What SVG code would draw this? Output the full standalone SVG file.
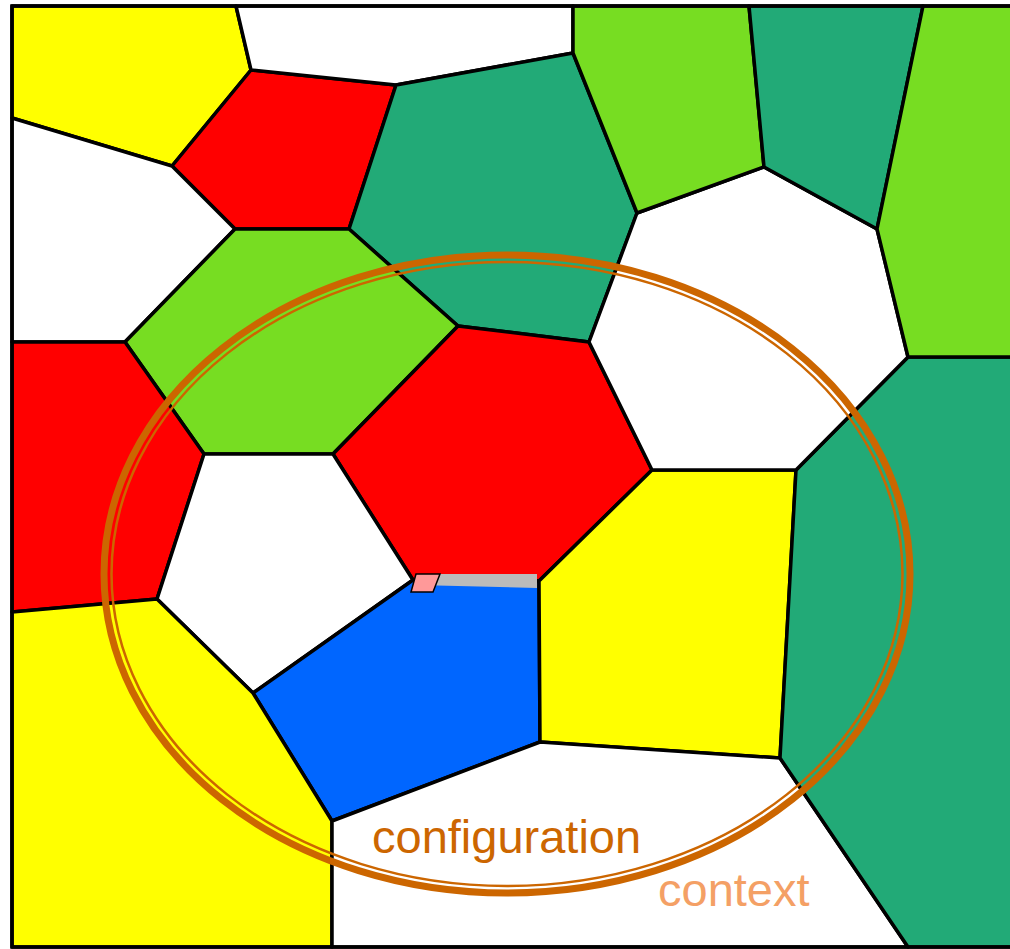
<svg xmlns="http://www.w3.org/2000/svg" width="1010" height="949" viewBox="0 0 1010 949">
<style>
.c{stroke:#000;stroke-width:3.5;stroke-linejoin:round}
.y{fill:#FFFF00}.r{fill:#FF0000}.w{fill:#FFFFFF}.t{fill:#22AA77}.g{fill:#77DD22}.b{fill:#0066FF}
.lbl{font-family:"Liberation Sans",Arial,sans-serif;font-size:47px}
</style>
<rect x="0" y="0" width="1010" height="949" fill="#FFFFFF"/>
<g id="cells">
<g id="c1"><polygon class="c y" points="12,6 236,6 251,70 172,166 12,118"/></g>
<g id="c2"><polygon class="c r" points="251,70 396,85 349,229 235,229 172,166"/></g>
<g id="c3"><polygon class="c w" points="12,118 172,166 235,229 125,342 12,342"/></g>
<g id="c4"><polygon class="c w" points="236,6 573,6 573,53 396,85 251,70"/></g>
<g id="c5"><polygon class="c t" points="396,85 573,53 637,213 589,342 458,326 349,229"/></g>
<g id="c6"><polygon class="c g" points="235,229 349,229 458,326 333,454 204,454 125,342"/></g>
<g id="c7"><polygon class="c r" points="12,342 125,342 204,454 157,599 12,612"/></g>
<g id="c8"><polygon class="c r" points="458,326 589,342 652,470 539,581 413,580 333,454"/></g>
<g id="c9"><polygon class="c w" points="204,454 333,454 413,580 253,693 157,599"/></g>
<g id="c10"><polygon class="c b" points="413,580 539,581 540,742 332,821 253,693"/></g>
<g id="c11"><polygon class="c y" points="12,612 157,599 253,693 332,821 332,947 12,947"/></g>
<g id="c12"><polygon class="c y" points="539,581 652,470 796,470 780,758 540,742"/></g>
<g id="c13"><polygon class="c w" points="332,821 540,742 780,758 908,947 332,947"/></g>
<g id="c14"><polygon class="c t" points="796,470 908,357 1012,357 1012,947 908,947 780,758"/></g>
<g id="c15"><polygon class="c w" points="637,213 764,167 877,229 908,357 796,470 652,470 589,342"/></g>
<g id="c16"><polygon class="c g" points="573,53 573,6 749,6 764,167 637,213"/></g>
<g id="c17"><polygon class="c t" points="749,6 923,6 877,229 764,167"/></g>
<g id="c18"><polygon class="c g" points="923,6 1012,6 1012,357 908,357 877,229"/></g>
</g>
<rect id="frame" x="12" y="6" width="1000" height="941" fill="none" stroke="#000" stroke-width="3.5"/>
<g id="marker">
<polygon points="416,574 537,574 537,588 416,585" fill="#BBBBBB"/>
<polygon points="416,574 440,574 433,592 411,592" fill="#FF9999" stroke="#000" stroke-width="1.5"/>
</g>
<g id="context-ellipse" fill="none" stroke="#CC6600">
<ellipse cx="507" cy="574" rx="403" ry="319" stroke-width="7"/>
<ellipse cx="507" cy="574" rx="395.5" ry="312" stroke-width="2.5"/>
</g>
<g id="labels">
<text class="lbl" x="372" y="853" fill="#CC6600">configuration</text>
<text class="lbl" x="658" y="906" fill="#F4A065">context</text>
</g>
</svg>
